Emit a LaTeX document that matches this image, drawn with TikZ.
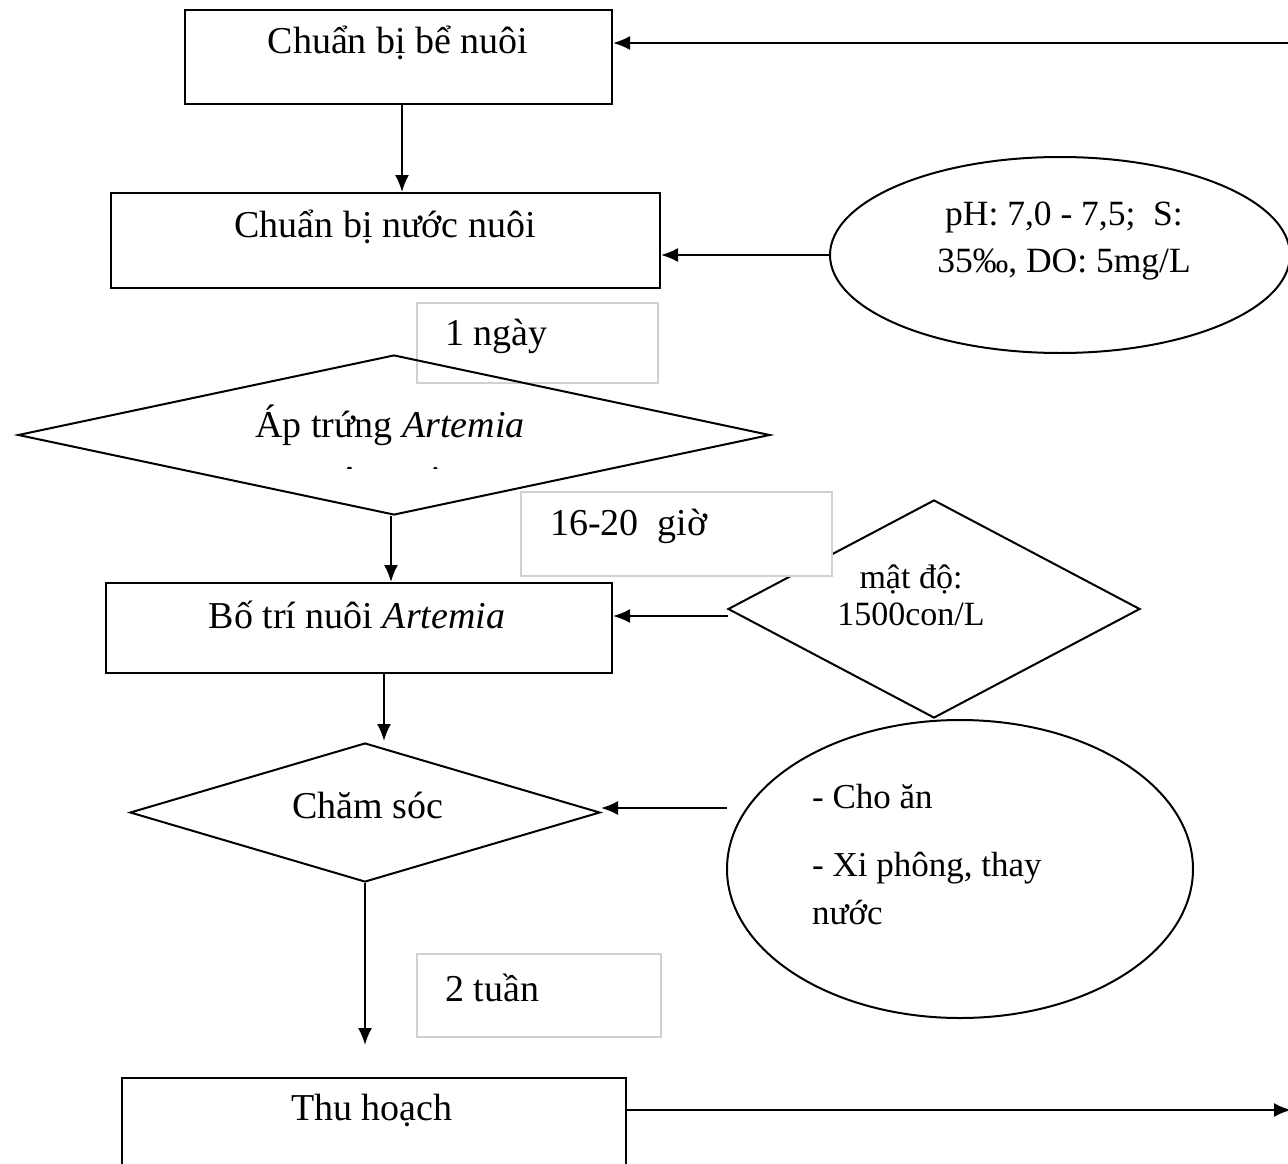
\documentclass[tikz,border=0pt]{standalone}
\usepackage{fontspec}
\setmainfont{Liberation Serif}
\usetikzlibrary{shapes.geometric,arrows.meta}
\begin{document}
\begin{tikzpicture}[x=1pt,y=-1pt,
  shp/.style={draw=black, line width=2pt},
  boxn/.style={shp, rectangle, inner sep=0pt},
  dia/.style={shp, diamond, inner sep=0pt},
  ell/.style={shp, ellipse, inner sep=0pt},
  tbox/.style={draw=black!18, line width=1.4pt, fill=white, rectangle, inner sep=0pt},
  arr/.style={line width=2pt, -{Latex[length=17pt,width=14pt]}},
  big/.style={font=\fontsize{38}{44}\selectfont, inner sep=0pt},
  small/.style={font=\fontsize{35.5}{47}\selectfont, inner sep=0pt, align=center},
  dsmall/.style={font=\fontsize{34}{37}\selectfont, inner sep=0pt, align=center},
  mid/.style={font=\fontsize{35}{44}\selectfont, inner sep=0pt},
]
\useasboundingbox (0,0) rectangle (1288,1164);
\fill[white] (0,0) rectangle (1288,1164);
\clip (0,0) rectangle (1288,1164);

% shapes
\node[boxn, minimum width=427pt, minimum height=94pt] (b1) at (398.5,57) {};
\node[boxn, minimum width=549pt, minimum height=95pt] (b2) at (385.5,240.5) {};
\node[ell, minimum width=460pt, minimum height=196pt] (e1) at (1060,255) {};
\node[tbox, minimum width=241pt, minimum height=80pt] (tb1) at (537.5,343) {};
\node[dia, minimum width=752pt, minimum height=160pt] (d1) at (394,435) {};
\node[dia, minimum width=412pt, minimum height=218pt] (d2) at (934,609) {};
\node[tbox, minimum width=311pt, minimum height=84pt] (tb2) at (676.5,534) {};
\node[boxn, minimum width=506pt, minimum height=90pt] (b3) at (359,628) {};
\node[dia, minimum width=470pt, minimum height=139pt] (d3) at (365,812.5) {};
\node[ell, minimum width=466pt, minimum height=298pt] (e2) at (960,869) {};
\node[tbox, minimum width=244pt, minimum height=83pt] (tb3) at (539,995.5) {};
\node[boxn, minimum width=504pt, minimum height=150pt] (b4) at (374,1153) {};

% free ends
\coordinate (rin) at (1290,43);
\coordinate (rout) at (1291,1110);
\coordinate (d2out) at (728,616);
\coordinate (e2out) at (727,808);
\coordinate (d3top) at (384,741);
\coordinate (downend) at (366,1045);

% connectors
\draw[arr] (rin) -- (rin -| b1.east);
\draw[arr] (b1.south -| 402,0) -- (402,0 |- b2.north);
\draw[arr] (e1.west) -- (e1.west -| b2.east);
\draw[arr] (d1.south -| 391,0) -- (391,0 |- b3.north);
\draw[arr] (d2out) -- (d2out -| b3.east);
\draw[arr] (b3.south -| d3top) -- (d3top);
\draw[arr] (e2out) -- (e2out -| d3.east);
\draw[arr] (d3.south) -- (d3.south |- downend);
\draw[arr] (rout -| b4.east) -- (rout);

% texts
\node[big] (t1) at (398,43) {Chuẩn bị bể nuôi};
\node[big] (t2) at (385,227) {Chuẩn bị nước nuôi};
\node[small] (te1) at (1064,241) {pH: 7,0 - 7,5;\ \ S:\\35‰, DO:\ 5mg/L};
\node[big, anchor=west] (l1) at (445,336) {1 ngày};
\node[big] (t3) at (390,425) {Áp trứng \textit{Artemia}};
\begin{scope}
\clip (300,455) rectangle (480,468);
\node[big] (t3b) at (397,480) {\textit{Artemia}};
\end{scope}
\node[big, anchor=west] (l2) at (550,526) {16-20\ \ giờ};
\node[big] (t4) at (357,615) {Bố trí nuôi \textit{Artemia}};
\node[dsmall] (te2) at (911,595) {mật độ:\\1500con/L};
\node[big] (t5) at (368,805) {Chăm sóc};
\node[mid, anchor=west] (c1) at (812,797) {- Cho ăn};
\node[mid, anchor=west] (c2) at (812,868) {- Xi phông, thay};
\node[mid, anchor=west] (c3) at (812,912) {nước};
\node[big, anchor=west] (l3) at (445,988) {2 tuần};
\node[big] (t6) at (372,1110) {Thu hoạch};
\end{tikzpicture}
\end{document}
